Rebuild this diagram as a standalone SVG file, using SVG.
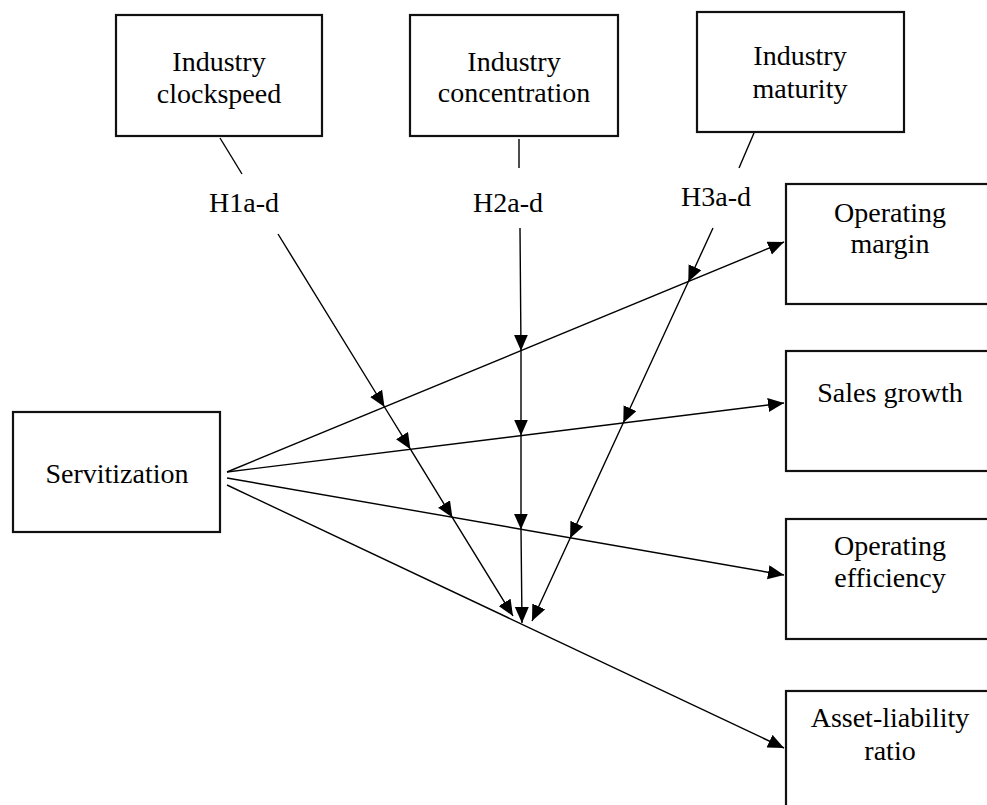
<svg xmlns="http://www.w3.org/2000/svg" width="987" height="805" viewBox="0 0 987 805">
<style>
.box{fill:#fff;stroke:#111;stroke-width:2.2}
.t{font-family:"Liberation Serif","Times New Roman",serif;font-size:28px;fill:#000;text-anchor:middle}
.c{fill:none;stroke:#000;stroke-width:1.4}
.a{marker-end:url(#ah)}
.m{marker-mid:url(#ah);marker-end:url(#ah)}
</style>
<defs>
<marker id="ah" markerUnits="userSpaceOnUse" markerWidth="17" markerHeight="15" refX="16" refY="7" orient="auto" viewBox="0 0 17 15">
<path d="M0,0 L16,7 L0,14 z" fill="#000"/>
</marker>
</defs>
<rect width="987" height="805" fill="#fff"/>
<g id="connectors">
<line class="c" x1="220" y1="138" x2="242" y2="174"/>
<line class="c" x1="519" y1="139" x2="519" y2="168"/>
<line class="c" x1="754" y1="133" x2="739" y2="168"/>
<polyline class="c m" points="278,234 384.5,407 410.4,449.2 452.4,517.6 513,616"/>
<polyline class="c m" points="520,228 521,350.7 521,435.5 521,529.6 522,623"/>
<polyline class="c m" points="713,228 688.3,281.7 623.3,422.7 570.1,538.2 532,621"/>
<line class="c a" x1="227" y1="472" x2="784" y2="242"/>
<line class="c a" x1="227" y1="472" x2="784" y2="403"/>
<line class="c a" x1="227" y1="478" x2="784" y2="575"/>
<line class="c a" x1="227" y1="485" x2="784" y2="748"/>
</g>
<g id="clockspeed"><rect class="box" x="116" y="15" width="206" height="121"/><text class="t" x="219" y="71">Industry</text><text class="t" x="219" y="103">clockspeed</text></g>
<g id="concentration"><rect class="box" x="410" y="15" width="208" height="121"/><text class="t" x="514" y="71">Industry</text><text class="t" x="514" y="102">concentration</text></g>
<g id="maturity"><rect class="box" x="697" y="12" width="207" height="120"/><text class="t" x="800" y="65">Industry</text><text class="t" x="800" y="98">maturity</text></g>
<g id="h1"><text class="t" x="244" y="212">H1a-d</text></g>
<g id="h2"><text class="t" x="508" y="212">H2a-d</text></g>
<g id="h3"><text class="t" x="716" y="206">H3a-d</text></g>
<g id="servitization"><rect class="box" x="13" y="412" width="207" height="120"/><text class="t" x="117" y="483">Servitization</text></g>
<g id="margin"><rect class="box" x="786" y="184" width="208" height="120"/><text class="t" x="890" y="222">Operating</text><text class="t" x="890" y="253">margin</text></g>
<g id="sales"><rect class="box" x="786" y="351" width="208" height="120"/><text class="t" x="890" y="402">Sales growth</text></g>
<g id="efficiency"><rect class="box" x="786" y="519" width="208" height="120"/><text class="t" x="890" y="555">Operating</text><text class="t" x="890" y="587">efficiency</text></g>
<g id="asset"><rect class="box" x="786" y="691" width="208" height="120"/><text class="t" x="890" y="727">Asset-liability</text><text class="t" x="890" y="760">ratio</text></g>
</svg>
